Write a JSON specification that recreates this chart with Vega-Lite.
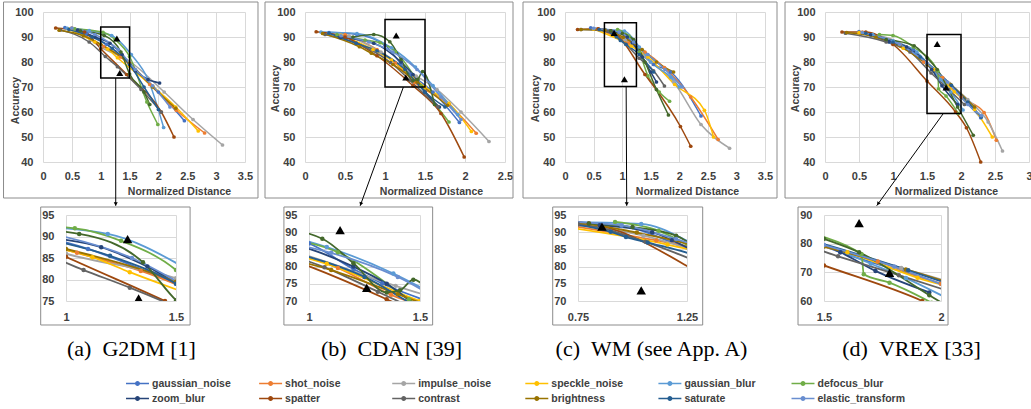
{
"$schema":"https://vega.github.io/schema/vega-lite/v6.json",
"padding":{"left":3,"top":1,"right":0,"bottom":0},
"background":"white",
"config":{
 "view":{"stroke":null},
 "font":"Liberation Sans",
 "axis":{"domain":false,"ticks":false,"tickSize":0,"grid":true,"gridColor":"#d9d9d9","gridWidth":1,"labelFlush":false,"labelOverlap":false,"labelFont":"Liberation Sans","labelFontWeight":"bold","labelFontSize":11,"labelColor":"#404040","titleFont":"Liberation Sans","titleFontWeight":"bold","titleFontSize":10.5,"titleColor":"#404040"},
 "legend":{"orient":"none","legendX":88,"legendY":365,"columns":6,"direction":"horizontal","symbolType":"M-2,0H2M-0.3,0A0.3,0.3,0,1,1,0.3,0A0.3,0.3,0,1,1,-0.3,0","symbolSize":132,"symbolStrokeWidth":1.5,"labelFont":"Liberation Sans","labelFontWeight":"bold","labelFontSize":10.5,"labelColor":"#404040","labelOffset":8,"rowPadding":3,"columnPadding":16.1,"gridAlign":"all","padding":0,"labelLimit":200}
},
"datasets":{
"triangles":[
{"panel":"a","distance":1.28,"accuracy":89.4},{"panel":"a","distance":1.33,"accuracy":75.6},
{"panel":"b","distance":1.14,"accuracy":90.6},{"panel":"b","distance":1.26,"accuracy":73.8},
{"panel":"c","distance":0.86,"accuracy":91.6},{"panel":"c","distance":1.04,"accuracy":73.1},
{"panel":"d","distance":1.65,"accuracy":87.2},{"panel":"d","distance":1.78,"accuracy":69.8}],
"curves":[
{"panel":"a","corruption":"gaussian_noise","distance":0.38,"accuracy":93.8},{"panel":"a","corruption":"gaussian_noise","distance":0.75,"accuracy":91.5},{"panel":"a","corruption":"gaussian_noise","distance":1.1,"accuracy":87.1},{"panel":"a","corruption":"gaussian_noise","distance":1.5,"accuracy":79},{"panel":"a","corruption":"gaussian_noise","distance":2.0,"accuracy":68},{"panel":"a","corruption":"gaussian_noise","distance":2.45,"accuracy":56.5},
{"panel":"a","corruption":"shot_noise","distance":0.5,"accuracy":93.6},{"panel":"a","corruption":"shot_noise","distance":1.05,"accuracy":86.2},{"panel":"a","corruption":"shot_noise","distance":1.34,"accuracy":82},{"panel":"a","corruption":"shot_noise","distance":1.85,"accuracy":71},{"panel":"a","corruption":"shot_noise","distance":2.31,"accuracy":60.7},{"panel":"a","corruption":"shot_noise","distance":2.8,"accuracy":51.6},
{"panel":"a","corruption":"impulse_noise","distance":0.55,"accuracy":93.3},{"panel":"a","corruption":"impulse_noise","distance":1.0,"accuracy":86},{"panel":"a","corruption":"impulse_noise","distance":1.5,"accuracy":80.3},{"panel":"a","corruption":"impulse_noise","distance":2.1,"accuracy":68},{"panel":"a","corruption":"impulse_noise","distance":2.6,"accuracy":57},{"panel":"a","corruption":"impulse_noise","distance":3.11,"accuracy":46.8},
{"panel":"a","corruption":"speckle_noise","distance":0.45,"accuracy":93.2},{"panel":"a","corruption":"speckle_noise","distance":0.9,"accuracy":88},{"panel":"a","corruption":"speckle_noise","distance":1.12,"accuracy":85.2},{"panel":"a","corruption":"speckle_noise","distance":1.29,"accuracy":81.7},{"panel":"a","corruption":"speckle_noise","distance":1.9,"accuracy":70.3},{"panel":"a","corruption":"speckle_noise","distance":2.3,"accuracy":62},{"panel":"a","corruption":"speckle_noise","distance":2.69,"accuracy":52.4},
{"panel":"a","corruption":"gaussian_blur","distance":0.42,"accuracy":93.5},{"panel":"a","corruption":"gaussian_blur","distance":0.8,"accuracy":92.6},{"panel":"a","corruption":"gaussian_blur","distance":1.19,"accuracy":90.6},{"panel":"a","corruption":"gaussian_blur","distance":1.53,"accuracy":83},{"panel":"a","corruption":"gaussian_blur","distance":1.82,"accuracy":73},{"panel":"a","corruption":"gaussian_blur","distance":2.09,"accuracy":53.8},
{"panel":"a","corruption":"defocus_blur","distance":0.55,"accuracy":93.3},{"panel":"a","corruption":"defocus_blur","distance":1.04,"accuracy":91.9},{"panel":"a","corruption":"defocus_blur","distance":1.25,"accuracy":89},{"panel":"a","corruption":"defocus_blur","distance":1.5,"accuracy":82.2},{"panel":"a","corruption":"defocus_blur","distance":1.8,"accuracy":64},{"panel":"a","corruption":"defocus_blur","distance":1.99,"accuracy":55},
{"panel":"a","corruption":"zoom_blur","distance":0.6,"accuracy":92.8},{"panel":"a","corruption":"zoom_blur","distance":0.9,"accuracy":90},{"panel":"a","corruption":"zoom_blur","distance":1.16,"accuracy":87.5},{"panel":"a","corruption":"zoom_blur","distance":1.37,"accuracy":83},{"panel":"a","corruption":"zoom_blur","distance":1.6,"accuracy":76.5},{"panel":"a","corruption":"zoom_blur","distance":1.82,"accuracy":73},{"panel":"a","corruption":"zoom_blur","distance":2.02,"accuracy":71.6},
{"panel":"a","corruption":"spatter","distance":0.22,"accuracy":93.6},{"panel":"a","corruption":"spatter","distance":0.72,"accuracy":92},{"panel":"a","corruption":"spatter","distance":1.0,"accuracy":85.3},{"panel":"a","corruption":"spatter","distance":1.45,"accuracy":75},{"panel":"a","corruption":"spatter","distance":2.05,"accuracy":60},{"panel":"a","corruption":"spatter","distance":2.27,"accuracy":50},
{"panel":"a","corruption":"contrast","distance":0.3,"accuracy":92.8},{"panel":"a","corruption":"contrast","distance":0.8,"accuracy":88},{"panel":"a","corruption":"contrast","distance":1.08,"accuracy":82.2},{"panel":"a","corruption":"contrast","distance":1.29,"accuracy":78.1},{"panel":"a","corruption":"contrast","distance":1.7,"accuracy":69},{"panel":"a","corruption":"contrast","distance":2.05,"accuracy":60},
{"panel":"a","corruption":"brightness","distance":0.28,"accuracy":92.7},{"panel":"a","corruption":"brightness","distance":0.7,"accuracy":90.5},{"panel":"a","corruption":"brightness","distance":1.0,"accuracy":87.1},{"panel":"a","corruption":"brightness","distance":1.5,"accuracy":79.5},{"panel":"a","corruption":"brightness","distance":1.9,"accuracy":70},{"panel":"a","corruption":"brightness","distance":2.3,"accuracy":61.5},
{"panel":"a","corruption":"saturate","distance":0.45,"accuracy":93},{"panel":"a","corruption":"saturate","distance":0.85,"accuracy":90},{"panel":"a","corruption":"saturate","distance":1.2,"accuracy":85.5},{"panel":"a","corruption":"saturate","distance":1.5,"accuracy":79},{"panel":"a","corruption":"saturate","distance":1.75,"accuracy":70},{"panel":"a","corruption":"saturate","distance":2.0,"accuracy":61},
{"panel":"a","corruption":"unlabelled","distance":0.65,"accuracy":92.5},{"panel":"a","corruption":"unlabelled","distance":1.06,"accuracy":90.6},{"panel":"a","corruption":"unlabelled","distance":1.35,"accuracy":84},{"panel":"a","corruption":"unlabelled","distance":1.5,"accuracy":75.2},{"panel":"a","corruption":"unlabelled","distance":1.75,"accuracy":68},{"panel":"a","corruption":"unlabelled","distance":1.85,"accuracy":63},
{"panel":"a","corruption":"elastic_transform","distance":0.5,"accuracy":93.6},{"panel":"a","corruption":"elastic_transform","distance":0.9,"accuracy":91},{"panel":"a","corruption":"elastic_transform","distance":1.3,"accuracy":85},{"panel":"a","corruption":"elastic_transform","distance":1.6,"accuracy":77},{"panel":"a","corruption":"elastic_transform","distance":1.9,"accuracy":70.5},{"panel":"a","corruption":"elastic_transform","distance":2.2,"accuracy":62},

{"panel":"b","corruption":"gaussian_noise","distance":0.3,"accuracy":91.8},{"panel":"b","corruption":"gaussian_noise","distance":0.65,"accuracy":91},{"panel":"b","corruption":"gaussian_noise","distance":1.0,"accuracy":86.7},{"panel":"b","corruption":"gaussian_noise","distance":1.2,"accuracy":79.3},{"panel":"b","corruption":"gaussian_noise","distance":1.33,"accuracy":75.1},{"panel":"b","corruption":"gaussian_noise","distance":1.6,"accuracy":68},{"panel":"b","corruption":"gaussian_noise","distance":1.93,"accuracy":55.8},
{"panel":"b","corruption":"shot_noise","distance":0.5,"accuracy":91},{"panel":"b","corruption":"shot_noise","distance":0.9,"accuracy":85},{"panel":"b","corruption":"shot_noise","distance":1.13,"accuracy":79.6},{"panel":"b","corruption":"shot_noise","distance":1.37,"accuracy":71.8},{"panel":"b","corruption":"shot_noise","distance":1.8,"accuracy":63},{"panel":"b","corruption":"shot_noise","distance":2.14,"accuracy":51.5},
{"panel":"b","corruption":"impulse_noise","distance":0.55,"accuracy":90.5},{"panel":"b","corruption":"impulse_noise","distance":0.95,"accuracy":84},{"panel":"b","corruption":"impulse_noise","distance":1.39,"accuracy":74.4},{"panel":"b","corruption":"impulse_noise","distance":1.65,"accuracy":69},{"panel":"b","corruption":"impulse_noise","distance":1.95,"accuracy":60},{"panel":"b","corruption":"impulse_noise","distance":2.3,"accuracy":48.2},
{"panel":"b","corruption":"speckle_noise","distance":0.45,"accuracy":90.8},{"panel":"b","corruption":"speckle_noise","distance":0.85,"accuracy":85},{"panel":"b","corruption":"speckle_noise","distance":1.08,"accuracy":80.8},{"panel":"b","corruption":"speckle_noise","distance":1.5,"accuracy":70},{"panel":"b","corruption":"speckle_noise","distance":1.8,"accuracy":63.5},{"panel":"b","corruption":"speckle_noise","distance":2.08,"accuracy":52.2},
{"panel":"b","corruption":"gaussian_blur","distance":0.2,"accuracy":92},{"panel":"b","corruption":"gaussian_blur","distance":0.65,"accuracy":91.4},{"panel":"b","corruption":"gaussian_blur","distance":1.08,"accuracy":85.7},{"panel":"b","corruption":"gaussian_blur","distance":1.38,"accuracy":78},{"panel":"b","corruption":"gaussian_blur","distance":1.6,"accuracy":70.6},{"panel":"b","corruption":"gaussian_blur","distance":1.91,"accuracy":59},
{"panel":"b","corruption":"defocus_blur","distance":0.4,"accuracy":91},{"panel":"b","corruption":"defocus_blur","distance":0.75,"accuracy":88.8},{"panel":"b","corruption":"defocus_blur","distance":0.94,"accuracy":87.7},{"panel":"b","corruption":"defocus_blur","distance":1.13,"accuracy":84.2},{"panel":"b","corruption":"defocus_blur","distance":1.45,"accuracy":70.5},{"panel":"b","corruption":"defocus_blur","distance":1.8,"accuracy":56},
{"panel":"b","corruption":"zoom_blur","distance":0.44,"accuracy":89.8},{"panel":"b","corruption":"zoom_blur","distance":0.86,"accuracy":87.5},{"panel":"b","corruption":"zoom_blur","distance":1.2,"accuracy":80},{"panel":"b","corruption":"zoom_blur","distance":1.35,"accuracy":75},{"panel":"b","corruption":"zoom_blur","distance":1.5,"accuracy":68},{"panel":"b","corruption":"zoom_blur","distance":1.68,"accuracy":62},
{"panel":"b","corruption":"spatter","distance":0.14,"accuracy":92.1},{"panel":"b","corruption":"spatter","distance":0.5,"accuracy":90},{"panel":"b","corruption":"spatter","distance":0.9,"accuracy":82.5},{"panel":"b","corruption":"spatter","distance":1.35,"accuracy":70.5},{"panel":"b","corruption":"spatter","distance":1.7,"accuracy":59.4},{"panel":"b","corruption":"spatter","distance":1.99,"accuracy":42},
{"panel":"b","corruption":"contrast","distance":0.25,"accuracy":91},{"panel":"b","corruption":"contrast","distance":0.64,"accuracy":87.5},{"panel":"b","corruption":"contrast","distance":1.07,"accuracy":79.8},{"panel":"b","corruption":"contrast","distance":1.31,"accuracy":72.7},{"panel":"b","corruption":"contrast","distance":1.66,"accuracy":62.1},
{"panel":"b","corruption":"brightness","distance":0.22,"accuracy":91.4},{"panel":"b","corruption":"brightness","distance":0.68,"accuracy":86.1},{"panel":"b","corruption":"brightness","distance":0.83,"accuracy":83.5},{"panel":"b","corruption":"brightness","distance":1.1,"accuracy":79},{"panel":"b","corruption":"brightness","distance":1.4,"accuracy":72},{"panel":"b","corruption":"brightness","distance":1.78,"accuracy":62.7},
{"panel":"b","corruption":"saturate","distance":0.3,"accuracy":91.5},{"panel":"b","corruption":"saturate","distance":0.64,"accuracy":87.5},{"panel":"b","corruption":"saturate","distance":0.9,"accuracy":84.5},{"panel":"b","corruption":"saturate","distance":1.25,"accuracy":77},{"panel":"b","corruption":"saturate","distance":1.5,"accuracy":68},{"panel":"b","corruption":"saturate","distance":1.75,"accuracy":62},
{"panel":"b","corruption":"unlabelled","distance":0.6,"accuracy":90},{"panel":"b","corruption":"unlabelled","distance":0.86,"accuracy":91},{"panel":"b","corruption":"unlabelled","distance":1.06,"accuracy":88.1},{"panel":"b","corruption":"unlabelled","distance":1.2,"accuracy":81},{"panel":"b","corruption":"unlabelled","distance":1.35,"accuracy":72.5},{"panel":"b","corruption":"unlabelled","distance":1.41,"accuracy":73.1},{"panel":"b","corruption":"unlabelled","distance":1.47,"accuracy":76.2},{"panel":"b","corruption":"unlabelled","distance":1.62,"accuracy":63},
{"panel":"b","corruption":"elastic_transform","distance":0.45,"accuracy":90.5},{"panel":"b","corruption":"elastic_transform","distance":0.8,"accuracy":88},{"panel":"b","corruption":"elastic_transform","distance":1.1,"accuracy":84},{"panel":"b","corruption":"elastic_transform","distance":1.4,"accuracy":77},{"panel":"b","corruption":"elastic_transform","distance":1.7,"accuracy":66},{"panel":"b","corruption":"elastic_transform","distance":1.95,"accuracy":57},

{"panel":"c","corruption":"gaussian_noise","distance":0.45,"accuracy":93.7},{"panel":"c","corruption":"gaussian_noise","distance":0.95,"accuracy":91.8},{"panel":"c","corruption":"gaussian_noise","distance":1.3,"accuracy":84},{"panel":"c","corruption":"gaussian_noise","distance":1.55,"accuracy":79},{"panel":"c","corruption":"gaussian_noise","distance":1.85,"accuracy":76},{"panel":"c","corruption":"gaussian_noise","distance":2.38,"accuracy":58.4},
{"panel":"c","corruption":"shot_noise","distance":0.58,"accuracy":93.3},{"panel":"c","corruption":"shot_noise","distance":1.11,"accuracy":87.6},{"panel":"c","corruption":"shot_noise","distance":1.4,"accuracy":84},{"panel":"c","corruption":"shot_noise","distance":1.74,"accuracy":77.8},{"panel":"c","corruption":"shot_noise","distance":2.2,"accuracy":66},{"panel":"c","corruption":"shot_noise","distance":2.68,"accuracy":49},
{"panel":"c","corruption":"impulse_noise","distance":0.6,"accuracy":93},{"panel":"c","corruption":"impulse_noise","distance":1.05,"accuracy":89},{"panel":"c","corruption":"impulse_noise","distance":1.5,"accuracy":80},{"panel":"c","corruption":"impulse_noise","distance":1.9,"accuracy":72},{"panel":"c","corruption":"impulse_noise","distance":2.38,"accuracy":55},{"panel":"c","corruption":"impulse_noise","distance":2.88,"accuracy":45.5},
{"panel":"c","corruption":"speckle_noise","distance":0.5,"accuracy":93.2},{"panel":"c","corruption":"speckle_noise","distance":1.16,"accuracy":86.4},{"panel":"c","corruption":"speckle_noise","distance":1.45,"accuracy":82},{"panel":"c","corruption":"speckle_noise","distance":1.92,"accuracy":71},{"panel":"c","corruption":"speckle_noise","distance":2.44,"accuracy":60.7},{"panel":"c","corruption":"speckle_noise","distance":2.6,"accuracy":50},
{"panel":"c","corruption":"gaussian_blur","distance":0.7,"accuracy":93},{"panel":"c","corruption":"gaussian_blur","distance":1.04,"accuracy":92.4},{"panel":"c","corruption":"gaussian_blur","distance":1.3,"accuracy":86},{"panel":"c","corruption":"gaussian_blur","distance":1.5,"accuracy":80},{"panel":"c","corruption":"gaussian_blur","distance":1.85,"accuracy":74},{"panel":"c","corruption":"gaussian_blur","distance":2.0,"accuracy":70},
{"panel":"c","corruption":"defocus_blur","distance":0.92,"accuracy":93},{"panel":"c","corruption":"defocus_blur","distance":1.12,"accuracy":90.4},{"panel":"c","corruption":"defocus_blur","distance":1.3,"accuracy":84},{"panel":"c","corruption":"defocus_blur","distance":1.45,"accuracy":74.5},{"panel":"c","corruption":"defocus_blur","distance":1.65,"accuracy":68},{"panel":"c","corruption":"defocus_blur","distance":1.83,"accuracy":64.3},
{"panel":"c","corruption":"zoom_blur","distance":0.85,"accuracy":92},{"panel":"c","corruption":"zoom_blur","distance":1.09,"accuracy":90},{"panel":"c","corruption":"zoom_blur","distance":1.18,"accuracy":87.7},{"panel":"c","corruption":"zoom_blur","distance":1.35,"accuracy":82},{"panel":"c","corruption":"zoom_blur","distance":1.5,"accuracy":76},{"panel":"c","corruption":"zoom_blur","distance":1.6,"accuracy":72},
{"panel":"c","corruption":"spatter","distance":0.22,"accuracy":93},{"panel":"c","corruption":"spatter","distance":0.58,"accuracy":93.3},{"panel":"c","corruption":"spatter","distance":0.8,"accuracy":92.5},{"panel":"c","corruption":"spatter","distance":1.4,"accuracy":75},{"panel":"c","corruption":"spatter","distance":2.02,"accuracy":54.2},{"panel":"c","corruption":"spatter","distance":2.2,"accuracy":46.3},
{"panel":"c","corruption":"contrast","distance":0.28,"accuracy":93},{"panel":"c","corruption":"contrast","distance":0.75,"accuracy":92.3},{"panel":"c","corruption":"contrast","distance":1.06,"accuracy":87.2},{"panel":"c","corruption":"contrast","distance":1.3,"accuracy":81.5},{"panel":"c","corruption":"contrast","distance":1.55,"accuracy":76.5},{"panel":"c","corruption":"contrast","distance":1.74,"accuracy":70.4},
{"panel":"c","corruption":"brightness","distance":0.28,"accuracy":93},{"panel":"c","corruption":"brightness","distance":0.7,"accuracy":92.8},{"panel":"c","corruption":"brightness","distance":1.02,"accuracy":89.9},{"panel":"c","corruption":"brightness","distance":1.35,"accuracy":85},{"panel":"c","corruption":"brightness","distance":1.6,"accuracy":80},{"panel":"c","corruption":"brightness","distance":1.9,"accuracy":76},
{"panel":"c","corruption":"saturate","distance":0.6,"accuracy":93},{"panel":"c","corruption":"saturate","distance":0.9,"accuracy":90.1},{"panel":"c","corruption":"saturate","distance":0.97,"accuracy":88.6},{"panel":"c","corruption":"saturate","distance":1.07,"accuracy":87},{"panel":"c","corruption":"saturate","distance":1.3,"accuracy":83},{"panel":"c","corruption":"saturate","distance":1.55,"accuracy":76},
{"panel":"c","corruption":"unlabelled","distance":0.8,"accuracy":92.5},{"panel":"c","corruption":"unlabelled","distance":1.0,"accuracy":91.5},{"panel":"c","corruption":"unlabelled","distance":1.2,"accuracy":89},{"panel":"c","corruption":"unlabelled","distance":1.4,"accuracy":80},{"panel":"c","corruption":"unlabelled","distance":1.6,"accuracy":69},{"panel":"c","corruption":"unlabelled","distance":1.81,"accuracy":58.8},
{"panel":"c","corruption":"elastic_transform","distance":0.5,"accuracy":93.5},{"panel":"c","corruption":"elastic_transform","distance":0.95,"accuracy":92},{"panel":"c","corruption":"elastic_transform","distance":1.2,"accuracy":88},{"panel":"c","corruption":"elastic_transform","distance":1.45,"accuracy":83},{"panel":"c","corruption":"elastic_transform","distance":1.75,"accuracy":77},{"panel":"c","corruption":"elastic_transform","distance":2.05,"accuracy":70},

{"panel":"d","corruption":"gaussian_noise","distance":0.5,"accuracy":92.2},{"panel":"d","corruption":"gaussian_noise","distance":0.95,"accuracy":88},{"panel":"d","corruption":"gaussian_noise","distance":1.3,"accuracy":85},{"panel":"d","corruption":"gaussian_noise","distance":1.57,"accuracy":77},{"panel":"d","corruption":"gaussian_noise","distance":2.0,"accuracy":66},{"panel":"d","corruption":"gaussian_noise","distance":2.29,"accuracy":57.7},
{"panel":"d","corruption":"shot_noise","distance":0.55,"accuracy":92},{"panel":"d","corruption":"shot_noise","distance":1.1,"accuracy":87},{"panel":"d","corruption":"shot_noise","distance":1.45,"accuracy":80},{"panel":"d","corruption":"shot_noise","distance":1.73,"accuracy":73.8},{"panel":"d","corruption":"shot_noise","distance":2.0,"accuracy":66},{"panel":"d","corruption":"shot_noise","distance":2.34,"accuracy":59.8},{"panel":"d","corruption":"shot_noise","distance":2.52,"accuracy":48.7},
{"panel":"d","corruption":"impulse_noise","distance":0.6,"accuracy":91.5},{"panel":"d","corruption":"impulse_noise","distance":1.2,"accuracy":86},{"panel":"d","corruption":"impulse_noise","distance":1.5,"accuracy":79},{"panel":"d","corruption":"impulse_noise","distance":1.83,"accuracy":71.5},{"panel":"d","corruption":"impulse_noise","distance":2.1,"accuracy":65},{"panel":"d","corruption":"impulse_noise","distance":2.4,"accuracy":56},{"panel":"d","corruption":"impulse_noise","distance":2.61,"accuracy":44.4},
{"panel":"d","corruption":"speckle_noise","distance":0.5,"accuracy":91.8},{"panel":"d","corruption":"speckle_noise","distance":1.15,"accuracy":85.5},{"panel":"d","corruption":"speckle_noise","distance":1.6,"accuracy":77},{"panel":"d","corruption":"speckle_noise","distance":1.9,"accuracy":68.1},{"panel":"d","corruption":"speckle_noise","distance":2.2,"accuracy":61},{"panel":"d","corruption":"speckle_noise","distance":2.46,"accuracy":50},
{"panel":"d","corruption":"gaussian_blur","distance":0.7,"accuracy":91},{"panel":"d","corruption":"gaussian_blur","distance":1.0,"accuracy":88.5},{"panel":"d","corruption":"gaussian_blur","distance":1.35,"accuracy":84},{"panel":"d","corruption":"gaussian_blur","distance":1.7,"accuracy":73},{"panel":"d","corruption":"gaussian_blur","distance":1.85,"accuracy":68},{"panel":"d","corruption":"gaussian_blur","distance":2.03,"accuracy":60.8},
{"panel":"d","corruption":"defocus_blur","distance":0.8,"accuracy":91},{"panel":"d","corruption":"defocus_blur","distance":1.0,"accuracy":90.6},{"panel":"d","corruption":"defocus_blur","distance":1.3,"accuracy":86},{"panel":"d","corruption":"defocus_blur","distance":1.66,"accuracy":76.4},{"panel":"d","corruption":"defocus_blur","distance":1.67,"accuracy":69.3},{"panel":"d","corruption":"defocus_blur","distance":1.78,"accuracy":66.4},{"panel":"d","corruption":"defocus_blur","distance":1.96,"accuracy":59.4},
{"panel":"d","corruption":"zoom_blur","distance":0.67,"accuracy":90.9},{"panel":"d","corruption":"zoom_blur","distance":0.94,"accuracy":88.2},{"panel":"d","corruption":"zoom_blur","distance":1.2,"accuracy":86},{"panel":"d","corruption":"zoom_blur","distance":1.57,"accuracy":77},{"panel":"d","corruption":"zoom_blur","distance":1.72,"accuracy":70.5},{"panel":"d","corruption":"zoom_blur","distance":1.95,"accuracy":63},
{"panel":"d","corruption":"spatter","distance":0.25,"accuracy":92},{"panel":"d","corruption":"spatter","distance":0.6,"accuracy":92},{"panel":"d","corruption":"spatter","distance":1.0,"accuracy":87},{"panel":"d","corruption":"spatter","distance":1.5,"accuracy":72.4},{"panel":"d","corruption":"spatter","distance":1.92,"accuracy":60},{"panel":"d","corruption":"spatter","distance":2.08,"accuracy":53.7},{"panel":"d","corruption":"spatter","distance":2.29,"accuracy":40},
{"panel":"d","corruption":"contrast","distance":0.3,"accuracy":91.5},{"panel":"d","corruption":"contrast","distance":0.9,"accuracy":88},{"panel":"d","corruption":"contrast","distance":1.25,"accuracy":84},{"panel":"d","corruption":"contrast","distance":1.56,"accuracy":75.6},{"panel":"d","corruption":"contrast","distance":1.82,"accuracy":69},{"panel":"d","corruption":"contrast","distance":2.05,"accuracy":63},
{"panel":"d","corruption":"brightness","distance":0.32,"accuracy":91.8},{"panel":"d","corruption":"brightness","distance":0.75,"accuracy":90},{"panel":"d","corruption":"brightness","distance":1.1,"accuracy":86.5},{"panel":"d","corruption":"brightness","distance":1.5,"accuracy":79},{"panel":"d","corruption":"brightness","distance":1.85,"accuracy":71},{"panel":"d","corruption":"brightness","distance":2.2,"accuracy":62},
{"panel":"d","corruption":"saturate","distance":0.6,"accuracy":91.5},{"panel":"d","corruption":"saturate","distance":1.0,"accuracy":88},{"panel":"d","corruption":"saturate","distance":1.4,"accuracy":82},{"panel":"d","corruption":"saturate","distance":1.86,"accuracy":70.7},{"panel":"d","corruption":"saturate","distance":2.1,"accuracy":64},{"panel":"d","corruption":"saturate","distance":2.3,"accuracy":58},
{"panel":"d","corruption":"unlabelled","distance":0.9,"accuracy":89},{"panel":"d","corruption":"unlabelled","distance":1.31,"accuracy":86.5},{"panel":"d","corruption":"unlabelled","distance":1.5,"accuracy":81.7},{"panel":"d","corruption":"unlabelled","distance":1.65,"accuracy":77},{"panel":"d","corruption":"unlabelled","distance":1.95,"accuracy":62},{"panel":"d","corruption":"unlabelled","distance":2.18,"accuracy":50.7},
{"panel":"d","corruption":"elastic_transform","distance":0.55,"accuracy":91.8},{"panel":"d","corruption":"elastic_transform","distance":1.1,"accuracy":87},{"panel":"d","corruption":"elastic_transform","distance":1.5,"accuracy":79.5},{"panel":"d","corruption":"elastic_transform","distance":1.8,"accuracy":72},{"panel":"d","corruption":"elastic_transform","distance":2.1,"accuracy":63},{"panel":"d","corruption":"elastic_transform","distance":2.3,"accuracy":58.5}
]},
"spacing":203,
"bounds":"flush",
"vconcat":[
{"hconcat":[
 {"width":202,"height":150,"resolve":{"axis":{"x":"independent","y":"independent"}},"layer":[
  {"data":{"name":"curves"},"transform":[{"filter":"datum.panel === 'a'"}],"encoding":{"x":{"field":"distance","type":"quantitative","scale":{"domain":[0,3.5],"nice":false,"zero":false},"axis":{"orient":"bottom","values":[0,0.5,1,1.5,2,2.5,3,3.5],"format":".3~g","labelOverlap":false,"labelPadding":8,"title":"Normalized Distance","titleX":136,"titleY":29,"titleBaseline":"middle","titleAlign":"center"}},"y":{"field":"accuracy","type":"quantitative","scale":{"domain":[40,100],"nice":false,"zero":false},"axis":{"orient":"left","values":[40,50,60,70,80,90,100],"format":"d","labelOverlap":false,"labelPadding":10,"title":"Accuracy","titleX":-28,"titleY":88,"titleAngle":270,"titleBaseline":"middle","titleAlign":"center"}},"color":{"field":"corruption","type":"nominal","title":null,"scale":{"domain":["gaussian_noise","shot_noise","impulse_noise","speckle_noise","gaussian_blur","defocus_blur","zoom_blur","spatter","contrast","brightness","saturate","unlabelled","elastic_transform"],"range":["#4472C4","#ED7D31","#A5A5A5","#FFC000","#5B9BD5","#70AD47","#264478","#9E480E","#636363","#997300","#255E91","#43682B","#698ED0"]},"legend":{"values":["gaussian_noise","shot_noise","impulse_noise","speckle_noise","gaussian_blur","defocus_blur","zoom_blur","spatter","contrast","brightness","saturate","elastic_transform"],"columnPadding":16.1}}},
   "layer":[{"mark":{"type":"line","interpolate":"monotone","strokeWidth":1.5}},{"mark":{"type":"circle","size":14,"opacity":1}}]},
  {"data":{"values":[{}]},"mark":{"type":"rect","filled":false,"stroke":"#8c8c8c","strokeWidth":1},"encoding":{"x":{"datum":-0.684,"type":"quantitative","scale":{"domain":[0,3.5],"nice":false,"zero":false},"axis":null},"x2":{"datum":3.725},"y":{"datum":104,"type":"quantitative","scale":{"domain":[40,100],"nice":false,"zero":false},"axis":null},"y2":{"datum":25.6}}},
  {"data":{"values":[{}]},"mark":{"type":"rect","filled":false,"stroke":"black","strokeWidth":1.5},"encoding":{"x":{"datum":1,"type":"quantitative","scale":{"domain":[0,3.5],"nice":false,"zero":false},"axis":null},"x2":{"datum":1.5},"y":{"datum":94,"type":"quantitative","scale":{"domain":[40,100],"nice":false,"zero":false},"axis":null},"y2":{"datum":73.6}}},
  {"data":{"values":[{}]},"mark":{"type":"rule","color":"black","strokeWidth":1},"encoding":{"x":{"datum":1.26,"type":"quantitative","scale":{"domain":[0,3.5],"nice":false,"zero":false},"axis":null},"x2":{"datum":1.26},"y":{"datum":73.6,"type":"quantitative","scale":{"domain":[40,100],"nice":false,"zero":false},"axis":null},"y2":{"datum":22.5}}},
  {"data":{"values":[{}]},"mark":{"type":"point","shape":"triangle-down","filled":true,"color":"black","size":16,"opacity":1},"encoding":{"x":{"datum":1.26,"type":"quantitative","scale":{"domain":[0,3.5],"nice":false,"zero":false},"axis":null},"y":{"datum":23.2,"type":"quantitative","scale":{"domain":[40,100],"nice":false,"zero":false},"axis":null}}},
  {"data":{"name":"triangles"},"transform":[{"filter":"datum.panel === 'a'"}],"mark":{"type":"point","shape":"triangle-up","filled":true,"color":"black","size":50,"opacity":1},"encoding":{"x":{"field":"distance","type":"quantitative","scale":{"domain":[0,3.5],"nice":false,"zero":false},"axis":null},"y":{"field":"accuracy","type":"quantitative","scale":{"domain":[40,100],"nice":false,"zero":false},"axis":null}}}
 ]},
 {"width":200,"height":150,"resolve":{"axis":{"x":"independent","y":"independent"}},"layer":[
  {"data":{"name":"curves"},"transform":[{"filter":"datum.panel === 'b'"}],"encoding":{"x":{"field":"distance","type":"quantitative","scale":{"domain":[0,2.5],"nice":false,"zero":false},"axis":{"orient":"bottom","values":[0,0.5,1,1.5,2,2.5],"format":".3~g","labelOverlap":false,"labelPadding":8,"title":"Normalized Distance","titleX":126,"titleY":29,"titleBaseline":"middle","titleAlign":"center"}},"y":{"field":"accuracy","type":"quantitative","scale":{"domain":[40,100],"nice":false,"zero":false},"axis":{"orient":"left","values":[40,50,60,70,80,90,100],"format":"d","labelOverlap":false,"labelPadding":10,"title":"Accuracy","titleX":-30,"titleY":76,"titleAngle":270,"titleBaseline":"middle","titleAlign":"center"}},"color":{"field":"corruption","type":"nominal","title":null,"scale":{"domain":["gaussian_noise","shot_noise","impulse_noise","speckle_noise","gaussian_blur","defocus_blur","zoom_blur","spatter","contrast","brightness","saturate","unlabelled","elastic_transform"],"range":["#4472C4","#ED7D31","#A5A5A5","#FFC000","#5B9BD5","#70AD47","#264478","#9E480E","#636363","#997300","#255E91","#43682B","#698ED0"]},"legend":{"values":["gaussian_noise","shot_noise","impulse_noise","speckle_noise","gaussian_blur","defocus_blur","zoom_blur","spatter","contrast","brightness","saturate","elastic_transform"],"columnPadding":16.1}}},
   "layer":[{"mark":{"type":"line","interpolate":"monotone","strokeWidth":1.5}},{"mark":{"type":"circle","size":14,"opacity":1}}]},
  {"data":{"values":[{}]},"mark":{"type":"rect","filled":false,"stroke":"#8c8c8c","strokeWidth":1},"encoding":{"x":{"datum":-0.5,"type":"quantitative","scale":{"domain":[0,2.5],"nice":false,"zero":false},"axis":null},"x2":{"datum":2.6},"y":{"datum":104,"type":"quantitative","scale":{"domain":[40,100],"nice":false,"zero":false},"axis":null},"y2":{"datum":25.6}}},
  {"data":{"values":[{}]},"mark":{"type":"rect","filled":false,"stroke":"black","strokeWidth":1.5},"encoding":{"x":{"datum":1,"type":"quantitative","scale":{"domain":[0,2.5],"nice":false,"zero":false},"axis":null},"x2":{"datum":1.5},"y":{"datum":97,"type":"quantitative","scale":{"domain":[40,100],"nice":false,"zero":false},"axis":null},"y2":{"datum":70}}},
  {"data":{"values":[{}]},"mark":{"type":"rule","color":"black","strokeWidth":1},"encoding":{"x":{"datum":1.23,"type":"quantitative","scale":{"domain":[0,2.5],"nice":false,"zero":false},"axis":null},"x2":{"datum":0.69},"y":{"datum":70,"type":"quantitative","scale":{"domain":[40,100],"nice":false,"zero":false},"axis":null},"y2":{"datum":22.5}}},
  {"data":{"values":[{}]},"mark":{"type":"point","shape":"triangle-down","filled":true,"color":"black","size":16,"opacity":1,"angle":20},"encoding":{"x":{"datum":0.697,"type":"quantitative","scale":{"domain":[0,2.5],"nice":false,"zero":false},"axis":null},"y":{"datum":23.2,"type":"quantitative","scale":{"domain":[40,100],"nice":false,"zero":false},"axis":null}}},
  {"data":{"name":"triangles"},"transform":[{"filter":"datum.panel === 'b'"}],"mark":{"type":"point","shape":"triangle-up","filled":true,"color":"black","size":50,"opacity":1},"encoding":{"x":{"field":"distance","type":"quantitative","scale":{"domain":[0,2.5],"nice":false,"zero":false},"axis":null},"y":{"field":"accuracy","type":"quantitative","scale":{"domain":[40,100],"nice":false,"zero":false},"axis":null}}}
 ]},
 {"width":200,"height":150,"resolve":{"axis":{"x":"independent","y":"independent"}},"layer":[
  {"data":{"name":"curves"},"transform":[{"filter":"datum.panel === 'c'"}],"encoding":{"x":{"field":"distance","type":"quantitative","scale":{"domain":[0,3.5],"nice":false,"zero":false},"axis":{"orient":"bottom","values":[0,0.5,1,1.5,2,2.5,3,3.5],"format":".3~g","labelOverlap":false,"labelPadding":8,"title":"Normalized Distance","titleX":122,"titleY":29,"titleBaseline":"middle","titleAlign":"center"}},"y":{"field":"accuracy","type":"quantitative","scale":{"domain":[40,100],"nice":false,"zero":false},"axis":{"orient":"left","values":[40,50,60,70,80,90,100],"format":"d","labelOverlap":false,"labelPadding":10,"title":"Accuracy","titleX":-30,"titleY":86,"titleAngle":270,"titleBaseline":"middle","titleAlign":"center"}},"color":{"field":"corruption","type":"nominal","title":null,"scale":{"domain":["gaussian_noise","shot_noise","impulse_noise","speckle_noise","gaussian_blur","defocus_blur","zoom_blur","spatter","contrast","brightness","saturate","unlabelled","elastic_transform"],"range":["#4472C4","#ED7D31","#A5A5A5","#FFC000","#5B9BD5","#70AD47","#264478","#9E480E","#636363","#997300","#255E91","#43682B","#698ED0"]},"legend":{"values":["gaussian_noise","shot_noise","impulse_noise","speckle_noise","gaussian_blur","defocus_blur","zoom_blur","spatter","contrast","brightness","saturate","elastic_transform"],"columnPadding":16.1}}},
   "layer":[{"mark":{"type":"line","interpolate":"monotone","strokeWidth":1.5}},{"mark":{"type":"circle","size":14,"opacity":1}}]},
  {"data":{"values":[{}]},"mark":{"type":"rect","filled":false,"stroke":"#8c8c8c","strokeWidth":1},"encoding":{"x":{"datum":-0.735,"type":"quantitative","scale":{"domain":[0,3.5],"nice":false,"zero":false},"axis":null},"x2":{"datum":3.71},"y":{"datum":104,"type":"quantitative","scale":{"domain":[40,100],"nice":false,"zero":false},"axis":null},"y2":{"datum":25.6}}},
  {"data":{"values":[{}]},"mark":{"type":"rect","filled":false,"stroke":"black","strokeWidth":1.5},"encoding":{"x":{"datum":0.69,"type":"quantitative","scale":{"domain":[0,3.5],"nice":false,"zero":false},"axis":null},"x2":{"datum":1.25},"y":{"datum":95.7,"type":"quantitative","scale":{"domain":[40,100],"nice":false,"zero":false},"axis":null},"y2":{"datum":70.2}}},
  {"data":{"values":[{}]},"mark":{"type":"rule","color":"black","strokeWidth":1},"encoding":{"x":{"datum":1.07,"type":"quantitative","scale":{"domain":[0,3.5],"nice":false,"zero":false},"axis":null},"x2":{"datum":1.08},"y":{"datum":70.2,"type":"quantitative","scale":{"domain":[40,100],"nice":false,"zero":false},"axis":null},"y2":{"datum":22.5}}},
  {"data":{"values":[{}]},"mark":{"type":"point","shape":"triangle-down","filled":true,"color":"black","size":16,"opacity":1},"encoding":{"x":{"datum":1.08,"type":"quantitative","scale":{"domain":[0,3.5],"nice":false,"zero":false},"axis":null},"y":{"datum":23.2,"type":"quantitative","scale":{"domain":[40,100],"nice":false,"zero":false},"axis":null}}},
  {"data":{"name":"triangles"},"transform":[{"filter":"datum.panel === 'c'"}],"mark":{"type":"point","shape":"triangle-up","filled":true,"color":"black","size":50,"opacity":1},"encoding":{"x":{"field":"distance","type":"quantitative","scale":{"domain":[0,3.5],"nice":false,"zero":false},"axis":null},"y":{"field":"accuracy","type":"quantitative","scale":{"domain":[40,100],"nice":false,"zero":false},"axis":null}}}
 ]},
 {"width":204,"height":150,"resolve":{"axis":{"x":"independent","y":"independent"}},"layer":[
  {"data":{"name":"curves"},"transform":[{"filter":"datum.panel === 'd'"}],"encoding":{"x":{"field":"distance","type":"quantitative","scale":{"domain":[0,3],"nice":false,"zero":false},"axis":{"orient":"bottom","values":[0,0.5,1,1.5,2,2.5,3],"format":".3~g","labelOverlap":false,"labelPadding":8,"title":"Normalized Distance","titleX":121,"titleY":29,"titleBaseline":"middle","titleAlign":"center"}},"y":{"field":"accuracy","type":"quantitative","scale":{"domain":[40,100],"nice":false,"zero":false},"axis":{"orient":"left","values":[40,50,60,70,80,90,100],"format":"d","labelOverlap":false,"labelPadding":10,"title":"Accuracy","titleX":-30,"titleY":76,"titleAngle":270,"titleBaseline":"middle","titleAlign":"center"}},"color":{"field":"corruption","type":"nominal","title":null,"scale":{"domain":["gaussian_noise","shot_noise","impulse_noise","speckle_noise","gaussian_blur","defocus_blur","zoom_blur","spatter","contrast","brightness","saturate","unlabelled","elastic_transform"],"range":["#4472C4","#ED7D31","#A5A5A5","#FFC000","#5B9BD5","#70AD47","#264478","#9E480E","#636363","#997300","#255E91","#43682B","#698ED0"]},"legend":{"values":["gaussian_noise","shot_noise","impulse_noise","speckle_noise","gaussian_blur","defocus_blur","zoom_blur","spatter","contrast","brightness","saturate","elastic_transform"],"columnPadding":16.1}}},
   "layer":[{"mark":{"type":"line","interpolate":"monotone","strokeWidth":1.5}},{"mark":{"type":"circle","size":14,"opacity":1}}]},
  {"data":{"values":[{}]},"mark":{"type":"rect","filled":false,"stroke":"#8c8c8c","strokeWidth":1},"encoding":{"x":{"datum":-0.588,"type":"quantitative","scale":{"domain":[0,3],"nice":false,"zero":false},"axis":null},"x2":{"datum":3.16},"y":{"datum":104,"type":"quantitative","scale":{"domain":[40,100],"nice":false,"zero":false},"axis":null},"y2":{"datum":25.6}}},
  {"data":{"values":[{}]},"mark":{"type":"rect","filled":false,"stroke":"black","strokeWidth":1.5},"encoding":{"x":{"datum":1.5,"type":"quantitative","scale":{"domain":[0,3],"nice":false,"zero":false},"axis":null},"x2":{"datum":2.0},"y":{"datum":91,"type":"quantitative","scale":{"domain":[40,100],"nice":false,"zero":false},"axis":null},"y2":{"datum":59.4}}},
  {"data":{"values":[{}]},"mark":{"type":"rule","color":"black","strokeWidth":1},"encoding":{"x":{"datum":1.74,"type":"quantitative","scale":{"domain":[0,3],"nice":false,"zero":false},"axis":null},"x2":{"datum":0.76},"y":{"datum":59.4,"type":"quantitative","scale":{"domain":[40,100],"nice":false,"zero":false},"axis":null},"y2":{"datum":22.5}}},
  {"data":{"values":[{}]},"mark":{"type":"point","shape":"triangle-down","filled":true,"color":"black","size":16,"opacity":1,"angle":35},"encoding":{"x":{"datum":0.78,"type":"quantitative","scale":{"domain":[0,3],"nice":false,"zero":false},"axis":null},"y":{"datum":23.3,"type":"quantitative","scale":{"domain":[40,100],"nice":false,"zero":false},"axis":null}}},
  {"data":{"name":"triangles"},"transform":[{"filter":"datum.panel === 'd'"}],"mark":{"type":"point","shape":"triangle-up","filled":true,"color":"black","size":50,"opacity":1},"encoding":{"x":{"field":"distance","type":"quantitative","scale":{"domain":[0,3],"nice":false,"zero":false},"axis":null},"y":{"field":"accuracy","type":"quantitative","scale":{"domain":[40,100],"nice":false,"zero":false},"axis":null}}}
 ]}
],"spacing":60,"bounds":"flush"},
{"vconcat":[
 {"hconcat":[
  {"width":23,"height":1,"data":{"values":[]},"mark":"point"},
  {"hconcat":[
   {"hconcat":[
    {"width":110,"height":86,"resolve":{"axis":{"x":"independent","y":"independent"}},"layer":[
     {"data":{"name":"curves"},"transform":[{"filter":"datum.panel === 'a'"}],"encoding":{"x":{"field":"distance","type":"quantitative","scale":{"domain":[1,1.5],"nice":false,"zero":false},"axis":{"orient":"bottom","values":[1,1.5],"format":".3~g","labelOverlap":false,"labelPadding":10,"title":null}},"y":{"field":"accuracy","type":"quantitative","scale":{"domain":[75,95],"nice":false,"zero":false},"axis":{"orient":"left","values":[75,80,85,90,95],"format":"d","labelOverlap":false,"labelPadding":12,"title":null}},"color":{"field":"corruption","type":"nominal","title":null,"scale":{"domain":["gaussian_noise","shot_noise","impulse_noise","speckle_noise","gaussian_blur","defocus_blur","zoom_blur","spatter","contrast","brightness","saturate","unlabelled","elastic_transform"],"range":["#4472C4","#ED7D31","#A5A5A5","#FFC000","#5B9BD5","#70AD47","#264478","#9E480E","#636363","#997300","#255E91","#43682B","#698ED0"]},"legend":{"values":["gaussian_noise","shot_noise","impulse_noise","speckle_noise","gaussian_blur","defocus_blur","zoom_blur","spatter","contrast","brightness","saturate","elastic_transform"],"columnPadding":16.1}}},
      "layer":[{"mark":{"type":"line","interpolate":"monotone","strokeWidth":1.8,"clip":true}},{"mark":{"type":"circle","size":20,"opacity":1,"clip":true}}]},
     {"data":{"values":[{}]},"mark":{"type":"rect","filled":false,"stroke":"#8c8c8c","strokeWidth":1},"encoding":{"x":{"datum":0.885,"type":"quantitative","scale":{"domain":[1,1.5],"nice":false,"zero":false},"axis":null},"x2":{"datum":1.564},"y":{"datum":96.86,"type":"quantitative","scale":{"domain":[75,95],"nice":false,"zero":false},"axis":null},"y2":{"datum":69.42}}},
     {"data":{"name":"triangles"},"transform":[{"filter":"datum.panel === 'a'"}],"mark":{"type":"point","shape":"triangle-up","filled":true,"color":"black","size":90,"opacity":1,"clip":true},"encoding":{"x":{"field":"distance","type":"quantitative","scale":{"domain":[1,1.5],"nice":false,"zero":false},"axis":null},"y":{"field":"accuracy","type":"quantitative","scale":{"domain":[75,95],"nice":false,"zero":false},"axis":null}}}
    ]},
    {"width":111,"height":86,"resolve":{"axis":{"x":"independent","y":"independent"}},"layer":[
     {"data":{"name":"curves"},"transform":[{"filter":"datum.panel === 'b'"}],"encoding":{"x":{"field":"distance","type":"quantitative","scale":{"domain":[1,1.5],"nice":false,"zero":false},"axis":{"orient":"bottom","values":[1,1.5],"format":".3~g","labelOverlap":false,"labelPadding":10,"title":null}},"y":{"field":"accuracy","type":"quantitative","scale":{"domain":[70,95],"nice":false,"zero":false},"axis":{"orient":"left","values":[70,75,80,85,90,95],"format":"d","labelOverlap":false,"labelPadding":12,"title":null}},"color":{"field":"corruption","type":"nominal","title":null,"scale":{"domain":["gaussian_noise","shot_noise","impulse_noise","speckle_noise","gaussian_blur","defocus_blur","zoom_blur","spatter","contrast","brightness","saturate","unlabelled","elastic_transform"],"range":["#4472C4","#ED7D31","#A5A5A5","#FFC000","#5B9BD5","#70AD47","#264478","#9E480E","#636363","#997300","#255E91","#43682B","#698ED0"]},"legend":{"values":["gaussian_noise","shot_noise","impulse_noise","speckle_noise","gaussian_blur","defocus_blur","zoom_blur","spatter","contrast","brightness","saturate","elastic_transform"],"columnPadding":16.1}}},
      "layer":[{"mark":{"type":"line","interpolate":"monotone","strokeWidth":1.8,"clip":true}},{"mark":{"type":"circle","size":20,"opacity":1,"clip":true}}]},
     {"data":{"values":[{}]},"mark":{"type":"rect","filled":false,"stroke":"#8c8c8c","strokeWidth":1},"encoding":{"x":{"datum":0.887,"type":"quantitative","scale":{"domain":[1,1.5],"nice":false,"zero":false},"axis":null},"x2":{"datum":1.557},"y":{"datum":97.33,"type":"quantitative","scale":{"domain":[70,95],"nice":false,"zero":false},"axis":null},"y2":{"datum":63.02}}},
     {"data":{"name":"triangles"},"transform":[{"filter":"datum.panel === 'b'"}],"mark":{"type":"point","shape":"triangle-up","filled":true,"color":"black","size":90,"opacity":1,"clip":true},"encoding":{"x":{"field":"distance","type":"quantitative","scale":{"domain":[1,1.5],"nice":false,"zero":false},"axis":null},"y":{"field":"accuracy","type":"quantitative","scale":{"domain":[70,95],"nice":false,"zero":false},"axis":null}}}
    ]}
   ],"spacing":133,"bounds":"flush"},
   {"hconcat":[
    {"width":109,"height":86,"resolve":{"axis":{"x":"independent","y":"independent"}},"layer":[
     {"data":{"name":"curves"},"transform":[{"filter":"datum.panel === 'c'"}],"encoding":{"x":{"field":"distance","type":"quantitative","scale":{"domain":[0.75,1.25],"nice":false,"zero":false},"axis":{"orient":"bottom","values":[0.75,1.25],"format":".3~g","labelOverlap":false,"labelPadding":10,"title":null}},"y":{"field":"accuracy","type":"quantitative","scale":{"domain":[70,95],"nice":false,"zero":false},"axis":{"orient":"left","values":[70,75,80,85,90,95],"format":"d","labelOverlap":false,"labelPadding":12,"title":null}},"color":{"field":"corruption","type":"nominal","title":null,"scale":{"domain":["gaussian_noise","shot_noise","impulse_noise","speckle_noise","gaussian_blur","defocus_blur","zoom_blur","spatter","contrast","brightness","saturate","unlabelled","elastic_transform"],"range":["#4472C4","#ED7D31","#A5A5A5","#FFC000","#5B9BD5","#70AD47","#264478","#9E480E","#636363","#997300","#255E91","#43682B","#698ED0"]},"legend":{"values":["gaussian_noise","shot_noise","impulse_noise","speckle_noise","gaussian_blur","defocus_blur","zoom_blur","spatter","contrast","brightness","saturate","elastic_transform"],"columnPadding":16.1}}},
      "layer":[{"mark":{"type":"line","interpolate":"monotone","strokeWidth":1.8,"clip":true}},{"mark":{"type":"circle","size":20,"opacity":1,"clip":true}}]},
     {"data":{"values":[{}]},"mark":{"type":"rect","filled":false,"stroke":"#8c8c8c","strokeWidth":1},"encoding":{"x":{"datum":0.634,"type":"quantitative","scale":{"domain":[0.75,1.25],"nice":false,"zero":false},"axis":null},"x2":{"datum":1.322},"y":{"datum":97.33,"type":"quantitative","scale":{"domain":[70,95],"nice":false,"zero":false},"axis":null},"y2":{"datum":63.02}}},
     {"data":{"name":"triangles"},"transform":[{"filter":"datum.panel === 'c'"}],"mark":{"type":"point","shape":"triangle-up","filled":true,"color":"black","size":90,"opacity":1,"clip":true},"encoding":{"x":{"field":"distance","type":"quantitative","scale":{"domain":[0.75,1.25],"nice":false,"zero":false},"axis":null},"y":{"field":"accuracy","type":"quantitative","scale":{"domain":[70,95],"nice":false,"zero":false},"axis":null}}}
    ]},
    {"width":117,"height":86,"resolve":{"axis":{"x":"independent","y":"independent"}},"layer":[
     {"data":{"name":"curves"},"transform":[{"filter":"datum.panel === 'd'"}],"encoding":{"x":{"field":"distance","type":"quantitative","scale":{"domain":[1.5,2],"nice":false,"zero":false},"axis":{"orient":"bottom","values":[1.5,2],"format":".3~g","labelOverlap":false,"labelPadding":10,"title":null}},"y":{"field":"accuracy","type":"quantitative","scale":{"domain":[60,90],"nice":false,"zero":false},"axis":{"orient":"left","values":[60,70,80,90],"format":"d","labelOverlap":false,"labelPadding":12,"title":null}},"color":{"field":"corruption","type":"nominal","title":null,"scale":{"domain":["gaussian_noise","shot_noise","impulse_noise","speckle_noise","gaussian_blur","defocus_blur","zoom_blur","spatter","contrast","brightness","saturate","unlabelled","elastic_transform"],"range":["#4472C4","#ED7D31","#A5A5A5","#FFC000","#5B9BD5","#70AD47","#264478","#9E480E","#636363","#997300","#255E91","#43682B","#698ED0"]},"legend":{"values":["gaussian_noise","shot_noise","impulse_noise","speckle_noise","gaussian_blur","defocus_blur","zoom_blur","spatter","contrast","brightness","saturate","elastic_transform"],"columnPadding":16.1}}},
      "layer":[{"mark":{"type":"line","interpolate":"monotone","strokeWidth":1.8,"clip":true}},{"mark":{"type":"circle","size":20,"opacity":1,"clip":true}}]},
     {"data":{"values":[{}]},"mark":{"type":"rect","filled":false,"stroke":"#8c8c8c","strokeWidth":1},"encoding":{"x":{"datum":1.389,"type":"quantitative","scale":{"domain":[1.5,2],"nice":false,"zero":false},"axis":null},"x2":{"datum":2.03},"y":{"datum":92.79,"type":"quantitative","scale":{"domain":[60,90],"nice":false,"zero":false},"axis":null},"y2":{"datum":51.63}}},
     {"data":{"name":"triangles"},"transform":[{"filter":"datum.panel === 'd'"}],"mark":{"type":"point","shape":"triangle-up","filled":true,"color":"black","size":90,"opacity":1,"clip":true},"encoding":{"x":{"field":"distance","type":"quantitative","scale":{"domain":[1.5,2],"nice":false,"zero":false},"axis":null},"y":{"field":"accuracy","type":"quantitative","scale":{"domain":[60,90],"nice":false,"zero":false},"axis":null}}}
    ]}
   ],"spacing":137,"bounds":"flush"}
  ],"spacing":512,"bounds":"flush"}
 ],"spacing":0,"bounds":"flush"},
 {"width":957,"height":268,"data":{"values":[{"panel":"a","caption":"(a)\u2002G2DM [1]"},{"panel":"b","caption":"(b)\u2002CDAN [39]"},{"panel":"c","caption":"(c)\u2002WM (see App. A)"},{"panel":"d","caption":"(d)\u2002VREX [33]"}]},"mark":{"type":"text","font":"Liberation Serif","fontSize":22,"color":"black"},"encoding":{"x":{"field":"panel","type":"nominal","scale":{"type":"point","padding":0.34},"axis":null},"text":{"field":"caption","type":"nominal"}}}
],"spacing":0,"bounds":"flush"}
]
}
